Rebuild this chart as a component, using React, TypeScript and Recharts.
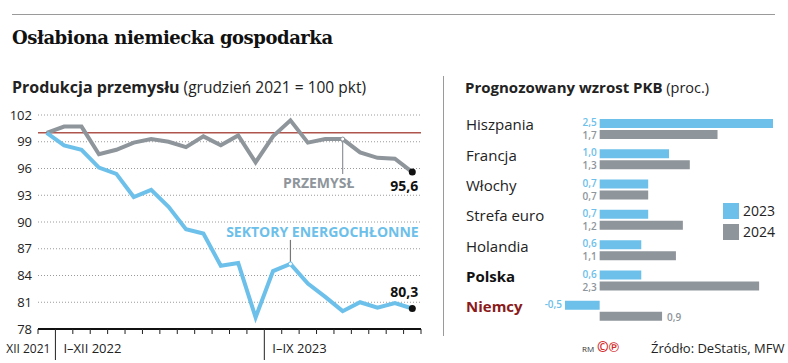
import React from 'react'
import { LineChart, Line, XAxis, YAxis, CartesianGrid, ReferenceLine, BarChart, Bar, LabelList } from 'recharts'

// miesiące: XII 2021 + I-XII 2022 + I-IX 2023
const months = [
    'XII 2021',
    'I 2022', 'II 2022', 'III 2022', 'IV 2022', 'V 2022', 'VI 2022', 'VII 2022', 'VIII 2022', 'IX 2022', 'X 2022', 'XI 2022', 'XII 2022',
    'I 2023', 'II 2023', 'III 2023', 'IV 2023', 'V 2023', 'VI 2023', 'VII 2023', 'VIII 2023', 'IX 2023',
]
const przemysl = [100, 100.7, 100.7, 97.6, 98.1, 98.9, 99.3, 99.0, 98.4, 99.6, 98.6, 99.7, 96.7, 99.6, 101.4, 98.9, 99.3, 99.3, 97.8, 97.2, 97.1, 95.6]
const energochlonne = [100, 98.6, 98.1, 96.1, 95.4, 92.8, 93.6, 91.7, 89.2, 88.7, 85.1, 85.4, 79.3, 84.5, 85.3, 83.1, 81.6, 80.0, 81.0, 80.4, 80.9, 80.3]
const yTicks = [78, 81, 84, 87, 90, 93, 96, 99, 102]
const xTicks = months.map((_, i) => i - 0.5).concat([months.length - 0.5])
const periodLabels = [
    { at: 0.5, before: 'XII 2021', after: 'I–XII 2022' },
    { at: 12.5, before: '', after: 'I–IX 2023' },
]

const countries = ['Hiszpania', 'Francja', 'Włochy', 'Strefa euro', 'Holandia', 'Polska', 'Niemcy']
const gdp2023 = [2.5, 1.0, 0.7, 0.7, 0.6, 0.6, -0.5]
const gdp2024 = [1.7, 1.3, 0.7, 1.2, 1.1, 2.3, 0.9]

const FONT = '"Open Sans", sans-serif'
const BLUE = '#6cc0ea'
const GRAY = '#8e959b'

const lineData = months.map((m, i) => ({ i, month: m, przemysl: przemysl[i], energo: energochlonne[i] }))
const barData = countries.map((c, i) => ({ name: c, y2023: gdp2023[i], y2024: gdp2024[i] }))

const fmt = (v: number) => v.toFixed(1).replace('.', ',')

const XTick = (props: any) => {
    const { x, y, payload } = props
    const p = periodLabels.find(l => l.at === payload.value)
    if (p) {
        return (
            <g>
                <line x1={x} y1={y} x2={x} y2={y + 31} stroke="#222" strokeWidth={1} />
                {p.before && <text x={x - 5} y={y + 24} textAnchor="end" fontSize={12} fill="#222" fontFamily={FONT}>{p.before}</text>}
                <text x={x + 8} y={y + 24} textAnchor="start" fontSize={13} fill="#222" fontFamily={FONT}>{p.after}</text>
            </g>
        )
    }
    return <line x1={x} y1={y} x2={x} y2={y + 5} stroke="#222" strokeWidth={1} />
}

const GrayDot = (props: any) => {
    const { cx, cy, index, value } = props
    if (index === 17) {
        return (
            <g key={`gd${index}`}>
                <line x1={cx} y1={cy + 2} x2={cx} y2={cy + 35} stroke={GRAY} strokeWidth={1.2} />
                <circle cx={cx} cy={cy} r={2} fill="#fff" stroke={GRAY} strokeWidth={1} />
                <text x={cx - 24} y={cy + 49} textAnchor="middle" fontSize={14} fontWeight={700} fill={GRAY} fontFamily={FONT}>PRZEMYSŁ</text>
            </g>
        )
    }
    if (index === przemysl.length - 1) {
        return (
            <g key={`gd${index}`}>
                <circle cx={cx} cy={cy} r={3.5} fill="#111" />
                <text x={cx + 6} y={cy + 19} textAnchor="end" fontSize={14} fontWeight={700} fill="#111" fontFamily={FONT}>{fmt(Array.isArray(value) ? value[1] : value)}</text>
            </g>
        )
    }
    return <g key={`gd${index}`} />
}

const BlueDot = (props: any) => {
    const { cx, cy, index, value } = props
    if (index === 14) {
        return (
            <g key={`bd${index}`}>
                <line x1={cx} y1={cy - 2} x2={cx} y2={cy - 24} stroke="#777" strokeWidth={1.2} />
                <circle cx={cx} cy={cy} r={2} fill="#fff" stroke={BLUE} strokeWidth={1} />
                <text x={cx + 32} y={cy - 27} textAnchor="middle" fontSize={14} fontWeight={700} fill={BLUE} fontFamily={FONT}>SEKTORY ENERGOCHŁONNE</text>
            </g>
        )
    }
    if (index === energochlonne.length - 1) {
        return (
            <g key={`bd${index}`}>
                <circle cx={cx} cy={cy} r={3.5} fill="#111" />
                <text x={cx + 6} y={cy - 11} textAnchor="end" fontSize={14} fontWeight={700} fill="#111" fontFamily={FONT}>{fmt(Array.isArray(value) ? value[1] : value)}</text>
            </g>
        )
    }
    return <g key={`bd${index}`} />
}

const CountryTick = (props: any) => {
    const { y, payload } = props
    const name = payload.value
    const style = name === 'Polska' ? { weight: 700, color: '#111' } : name === 'Niemcy' ? { weight: 700, color: '#8b1a1a' } : { weight: 400, color: '#222' }
    return (
        <text x={21} y={y - 4} dy="0.35em" textAnchor="start" fontSize={15} fontWeight={style.weight} fill={style.color} fontFamily={FONT}>{name}</text>
    )
}

const Label2023 = (props: any) => {
    const { x, y, width, height, value } = props
    const left = Math.min(x, x + width)
    return (
        <text x={left - 3} y={y + height / 2 - 1} dy="0.36em" textAnchor="end" fontSize={10} fontWeight={600} fill={BLUE} fontFamily={FONT}>{fmt(value)}</text>
    )
}

const Label2024 = (props: any) => {
    const { x, y, width, height, value, index } = props
    const left = Math.min(x, x + width)
    const right = Math.max(x, x + width)
    const outside = gdp2023[index] < 0
    return (
        <text x={outside ? right + 5 : left - 3} y={y + height / 2 + 1} dy="0.36em" textAnchor={outside ? 'start' : 'end'} fontSize={10} fontWeight={600} fill={GRAY} fontFamily={FONT}>{fmt(value)}</text>
    )
}

const App = () => {
    return (
        <div style={{ position: 'absolute', left: 0, top: 0, width: 788, height: 363, background: '#fff', fontFamily: FONT, overflow: 'hidden' }}>
            <div style={{ position: 'absolute', left: 12, top: 14, width: 763, height: 1, background: '#9a9a9a' }} />
            <div style={{ position: 'absolute', left: 12, top: 27, fontFamily: '"DejaVu Serif", serif', fontWeight: 700, fontSize: 18, letterSpacing: -0.45, color: '#111', lineHeight: '22px', whiteSpace: 'nowrap' }}>
                Osłabiona niemiecka gospodarka
            </div>
            <div style={{ position: 'absolute', left: 12, top: 77, fontSize: 15.5, color: '#222', lineHeight: '20px', whiteSpace: 'nowrap' }}>
                <b style={{ fontSize: 16 }}>Produkcja przemysłu</b> (grudzień 2021 = 100 pkt)
            </div>
            <div style={{ position: 'absolute', left: 465, top: 77, fontSize: 14.5, color: '#222', lineHeight: '20px', whiteSpace: 'nowrap' }}>
                <b style={{ fontSize: 15 }}>Prognozowany wzrost PKB</b> (proc.)
            </div>
            <div style={{ position: 'absolute', left: 443, top: 76, width: 1, height: 260, background: '#9a9a9a' }} />

            <div style={{ position: 'absolute', left: 0, top: 0 }}>
                <LineChart width={430} height={363} data={lineData} margin={{ top: 115, right: 9, bottom: 14, left: 8 }}>
                    <CartesianGrid vertical={false} stroke="#9a9a9a" strokeDasharray="1 2" />
                    <XAxis
                        type="number"
                        dataKey="i"
                        domain={[-0.5, months.length - 0.5]}
                        ticks={xTicks}
                        interval={0}
                        height={20}
                        tickSize={0}
                        tickMargin={0}
                        tickLine={false}
                        axisLine={{ stroke: '#111', strokeWidth: 2 }}
                        tick={<XTick />}
                    />
                    <YAxis
                        domain={[78, 102]}
                        ticks={yTicks}
                        interval={0}
                        width={30}
                        axisLine={false}
                        tickLine={false}
                        tickSize={0}
                        tickMargin={6}
                        tick={{ fontSize: 13, fill: '#222', fontFamily: FONT }}
                    />
                    <ReferenceLine y={100} stroke="#b0554d" strokeWidth={1.5} />
                    <Line type="linear" dataKey="przemysl" stroke={GRAY} strokeWidth={4} dot={GrayDot} activeDot={false} isAnimationActive={false} />
                    <Line type="linear" dataKey="energo" stroke={BLUE} strokeWidth={4} dot={BlueDot} activeDot={false} isAnimationActive={false} />
                </LineChart>
            </div>

            <div style={{ position: 'absolute', left: 445, top: 0 }}>
                <BarChart width={343} height={363} data={barData} layout="vertical" margin={{ top: 114, right: 15, bottom: 37, left: 0 }} barSize={9} barGap={2}>
                    <XAxis type="number" domain={[-0.5, 2.5]} hide />
                    <YAxis type="category" dataKey="name" width={120} axisLine={false} tickLine={false} tickSize={0} tickMargin={0} interval={0} tick={<CountryTick />} />
                    <Bar dataKey="y2023" fill={BLUE} isAnimationActive={false}>
                        <LabelList dataKey="y2023" content={<Label2023 />} />
                    </Bar>
                    <Bar dataKey="y2024" fill={GRAY} isAnimationActive={false}>
                        <LabelList dataKey="y2024" content={<Label2024 />} />
                    </Bar>
                </BarChart>
            </div>

            <div style={{ position: 'absolute', left: 723, top: 203, width: 16, height: 16, background: BLUE }} />
            <div style={{ position: 'absolute', left: 743, top: 201, fontSize: 14, color: '#222', lineHeight: '20px' }}>2023</div>
            <div style={{ position: 'absolute', left: 723, top: 224, width: 16, height: 16, background: GRAY }} />
            <div style={{ position: 'absolute', left: 743, top: 222, fontSize: 14, color: '#222', lineHeight: '20px' }}>2024</div>

            <div style={{ position: 'absolute', left: 582, top: 342, fontSize: 8, color: '#333', lineHeight: '14px' }}>RM</div>
            <div style={{ position: 'absolute', left: 597, top: 338, fontSize: 14, color: '#d42a2a', lineHeight: '18px', fontWeight: 700 }}>©℗</div>
            <div style={{ position: 'absolute', left: 651, top: 339, fontSize: 13, color: '#222', lineHeight: '18px', whiteSpace: 'nowrap' }}>Źródło: DeStatis, MFW</div>
        </div>
    )
}

export default App
